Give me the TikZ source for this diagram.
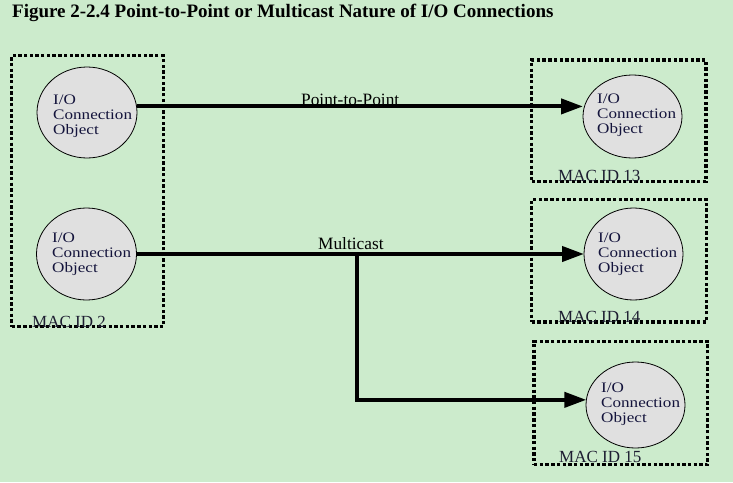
\documentclass[tikz,border=0pt]{standalone}
\usepackage{fontspec}
\setmainfont{Liberation Serif}
\usetikzlibrary{shapes.geometric,arrows.meta}
\definecolor{bg}{RGB}{204,235,204}
\definecolor{objfill}{RGB}{224,224,224}
\definecolor{objtext}{RGB}{20,20,60}
\definecolor{mactext}{RGB}{30,30,50}
\newcommand{\objtxt}{\scalebox{1.18}[1]{\begin{tabular}{@{}l@{}}I/O\\Connection\\Object\end{tabular}}}
\tikzset{
  macbox/.style={draw=black, line width=3.3pt, dash pattern=on 3.4pt off 2.3pt, inner sep=0pt, outer sep=0pt},
  obj/.style={ellipse, draw=black, line width=0.8pt, fill=objfill, inner sep=0pt, outer sep=0pt},
  objlabel/.style={font=\fontsize{14.5}{15}\selectfont, text=objtext, inner sep=0pt},
  maclabel/.style={anchor=base west, font=\fontsize{17}{17}\selectfont, text=mactext, inner sep=0pt},
  conlabel/.style={anchor=base west, font=\fontsize{17.3}{17}\selectfont, inner sep=0pt},
  conn/.style={line width=4pt, -{Triangle[length=22pt,width=15pt]}}
}
\begin{document}
\begin{tikzpicture}[x=1pt,y=-1pt]
\fill[bg] (0,0) rectangle (733,482);
\useasboundingbox (0,0) rectangle (733,482);
\node[anchor=base west, inner sep=0pt, font=\fontsize{19}{19}\selectfont\bfseries] (title) at (12,17) {Figure 2-2.4 Point-to-Point or Multicast Nature of I/O Connections};
% boxes
\node[macbox, minimum width=151.6pt, minimum height=271pt] (b2) at (87.5,191.2) {};
\node[macbox, minimum width=174.3pt, minimum height=121.5pt] (b13) at (618.9,120.7) {};
\node[macbox, minimum width=174.8pt, minimum height=122.5pt] (b14) at (619.1,260.8) {};
\node[macbox, minimum width=173.7pt, minimum height=123.2pt] (b15) at (620.9,403.1) {};
% objects
\node[obj, minimum width=100pt, minimum height=91pt] (c1) at (87,112.5) {};
\node[obj, minimum width=100pt, minimum height=92pt] (c2) at (86.5,254) {};
\node[obj, minimum width=99pt, minimum height=83pt] (c13) at (632.5,116.5) {};
\node[obj, minimum width=99pt, minimum height=92pt] (c14) at (633.5,254) {};
\node[obj, minimum width=99pt, minimum height=86pt] (c15) at (635.5,405) {};
% object texts
\node[objlabel, anchor=west] (t1) at (53,116) {\objtxt};
\node[objlabel, anchor=west] (t2) at (52,254) {\objtxt};
\node[objlabel, anchor=west] (t13) at (597,115) {\objtxt};
\node[objlabel, anchor=west] (t14) at (598,254) {\objtxt};
\node[objlabel, anchor=west] (t15) at (601,404) {\objtxt};
% MAC labels
\node[maclabel] (m2) at (32,327) {MAC ID 2};
\node[maclabel] (m13) at (558,181) {MAC ID 13};
\node[maclabel] (m14) at (558,322) {MAC ID 14};
\node[maclabel] (m15) at (559,462) {MAC ID 15};
% connectors
\draw[conn] (c1.7.5) -- (c1.7.5 -| c13.west);
\draw[conn] (c2.east) -- (c2.east -| c14.west);
\coordinate (br) at (357,254);
\draw[conn] (br) |- (c15.174);
% connector labels
\node[conlabel] (lp) at (301,105) {Point-to-Point};
\node[conlabel] (lm) at (318,249) {Multicast};
\end{tikzpicture}
\end{document}
